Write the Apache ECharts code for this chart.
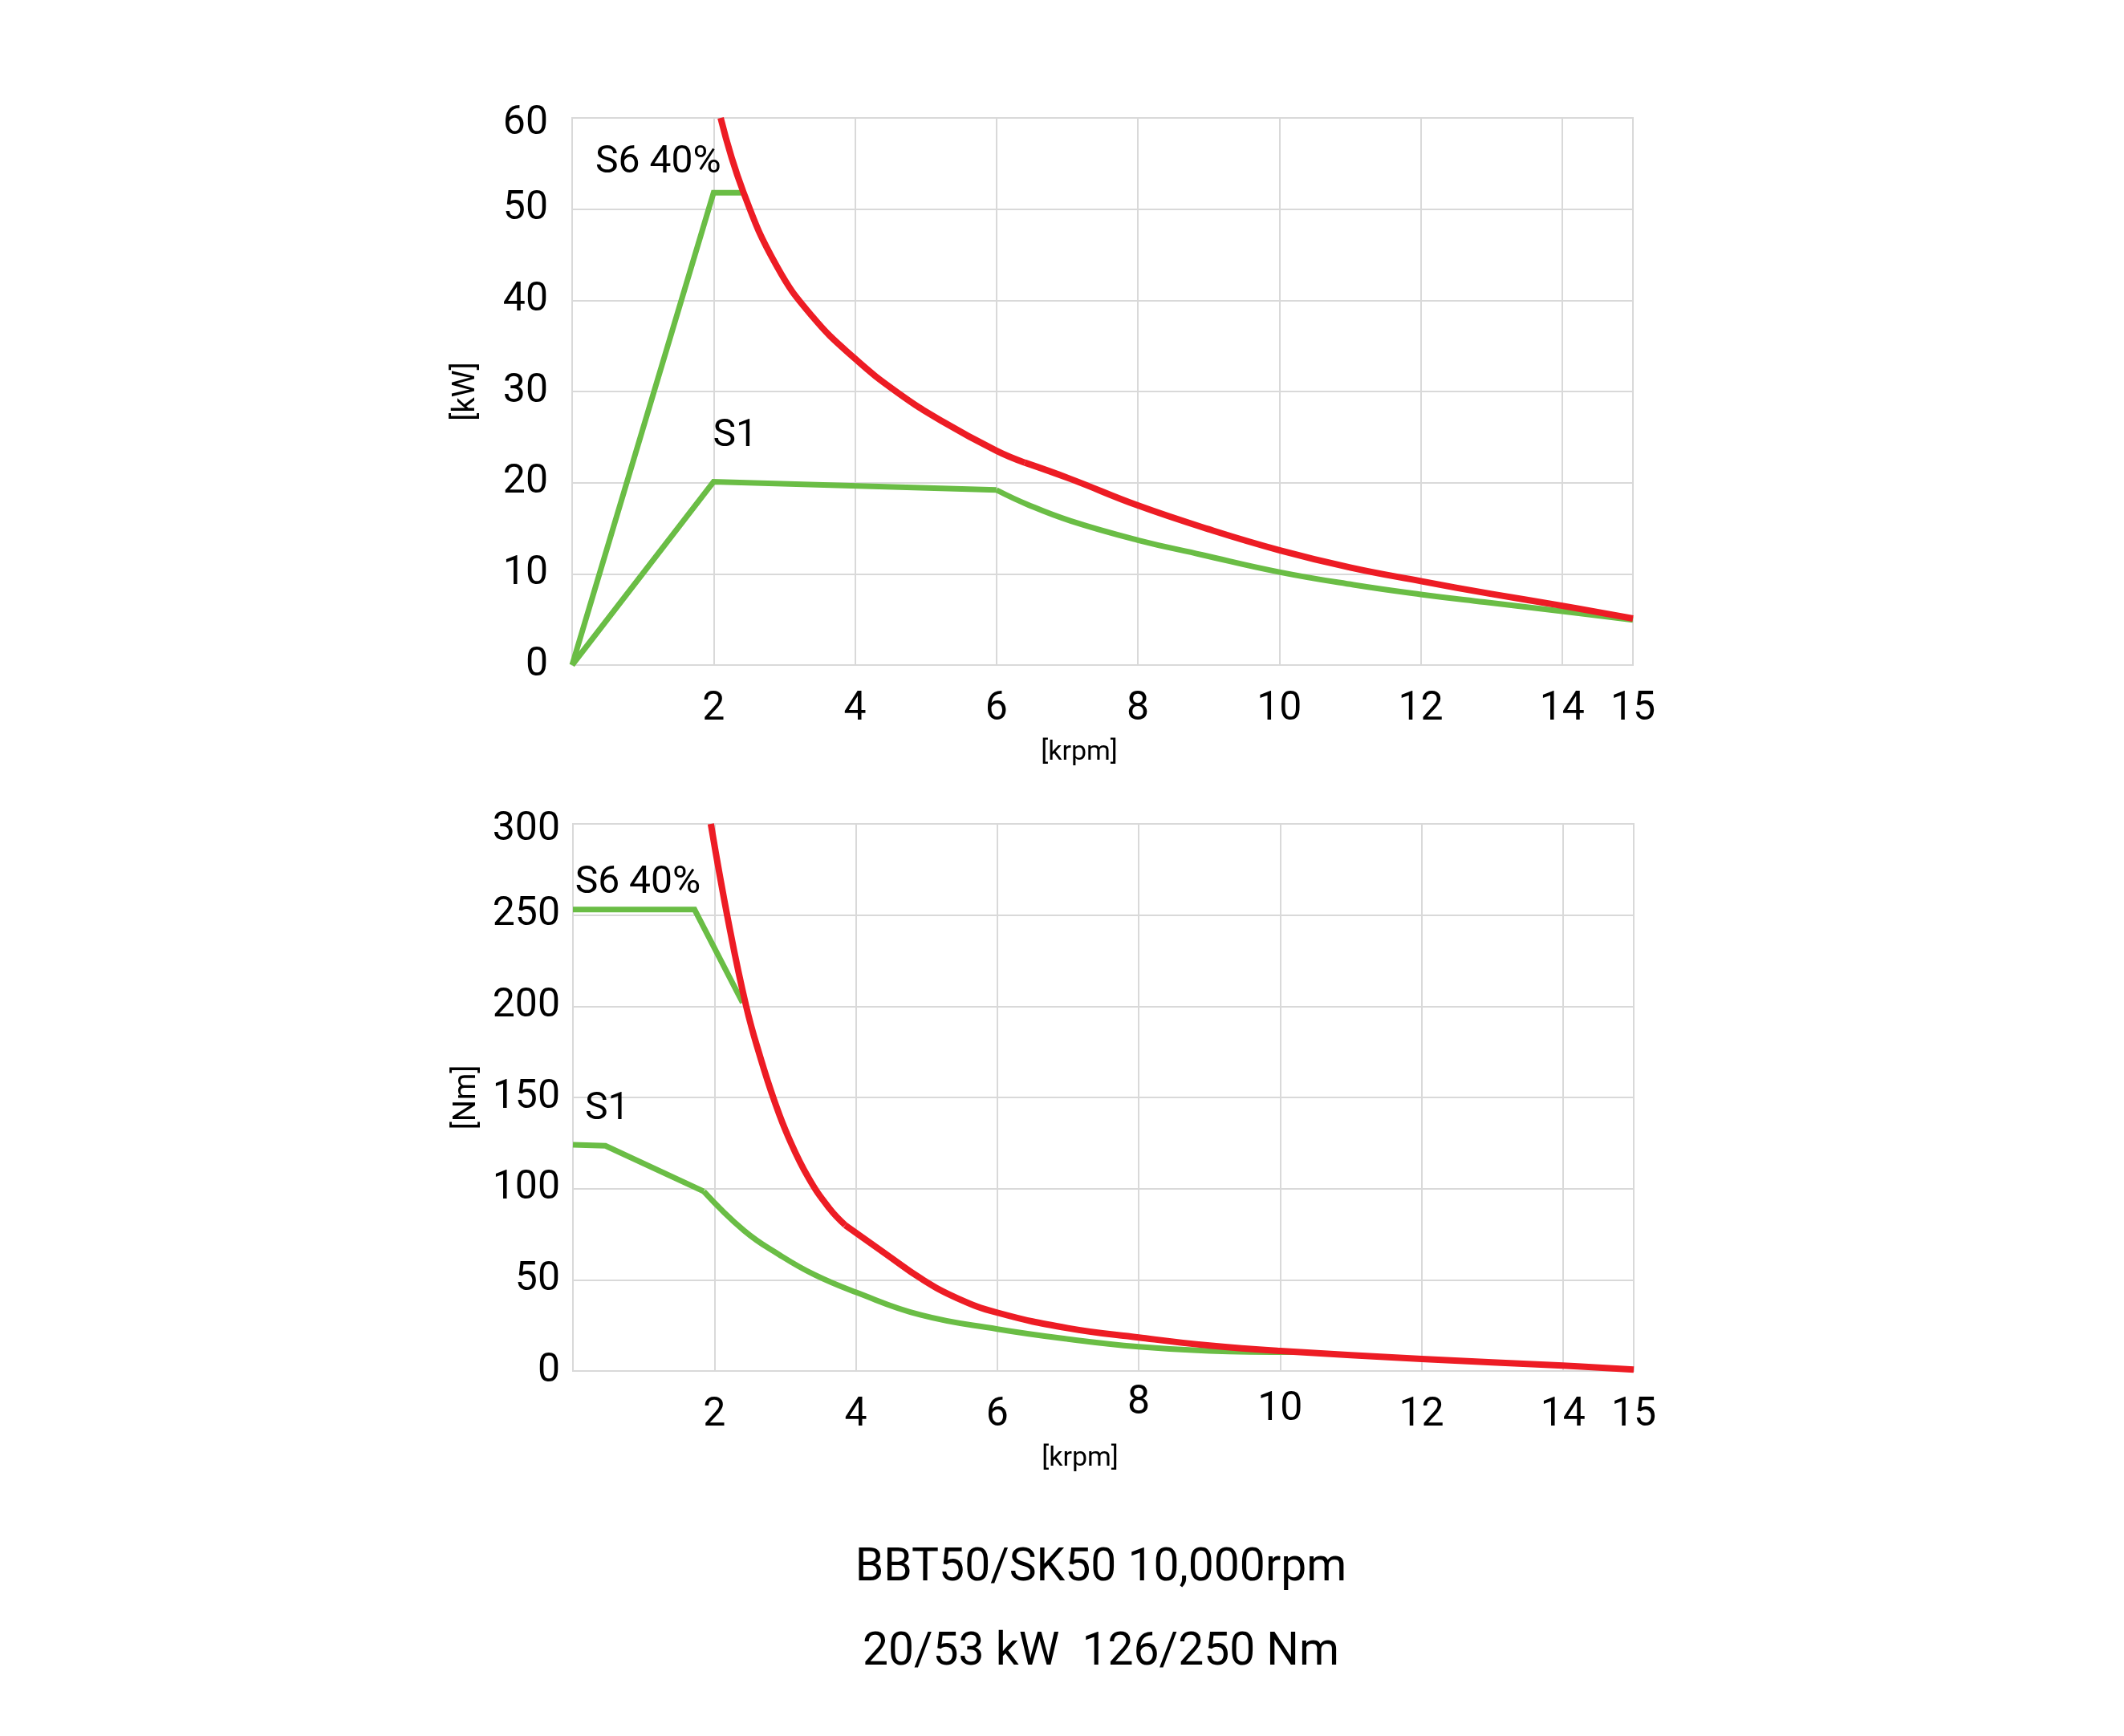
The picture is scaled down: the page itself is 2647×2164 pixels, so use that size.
<!DOCTYPE html>
<html><head><meta charset="utf-8">
<script src="https://cdn.jsdelivr.net/npm/echarts@6/dist/echarts.min.js"></script>
<style>html,body{margin:0;padding:0;background:#fff}#c{width:2647px;height:2164px}</style>
</head><body><div id="c"></div>
<script>
// ---------- Data: power chart [kW] vs [krpm] ----------
const kwS6Rpm = [0, 2, 2.41];
const kwS6Val = [0, 51.8, 51.8];
const kwS1RpmA = [0, 2, 6];
const kwS1ValA = [0, 20.1, 19.2];
const kwS1RpmB = [6, 6.44, 7.05, 8, 8.9, 10, 11.05, 12, 12.9, 14, 15];
const kwS1ValB = [19.2, 17.6, 15.8, 13.7, 12.1, 10.2, 8.8, 7.75, 6.9, 5.9, 4.95];
const kwMaxRpmA = [2.1, 2.42, 2.89, 3.4, 4.0, 4.6, 5.24, 6.0, 6.4];
const kwMaxValA = [60, 51.9, 43.8, 38.2, 33.6, 29.9, 26.7, 23.5, 22.2];
const kwMaxRpmB = [6.4, 7.05, 8.0, 9.0, 10, 11, 12, 13, 14, 15];
const kwMaxValB = [22.2, 20.4, 17.5, 14.9, 12.6, 10.7, 9.2, 7.8, 6.5, 5.1];

// ---------- Data: torque chart [Nm] vs [krpm] ----------
const nmS6Rpm = [0, 1.72, 2.4];
const nmS6Val = [253, 253, 202];
const nmS1RpmA = [0, 0.46, 1.85];
const nmS1ValA = [124, 123.5, 98.5];
const nmS1RpmB = [1.85, 2.42, 2.92, 3.42, 4.0, 4.92, 6.0, 7.0, 8.0, 9.0, 10.2];
const nmS1ValB = [98.5, 77, 63.7, 52.7, 43.2, 30.7, 23, 17.5, 13.3, 11.0, 10.3];
const nmMaxRpmA = [1.95, 2.2, 2.45, 2.65, 2.85, 3.05, 3.33, 3.63, 3.85];
const nmMaxValA = [300, 246, 200, 172, 148, 128, 106, 89, 80];
const nmMaxRpmB = [3.85, 4.43, 4.93, 5.43, 6.0, 7.0, 8.0, 9.0, 10, 12, 14, 15];
const nmMaxValB = [80, 64, 50.5, 40, 32, 23.5, 18.4, 14, 11, 6.6, 3.0, 0.8];

// ---------- Axis ticks ----------
const kwTicks = {min: 0, max: 60, step: 10};
const nmTicks = {min: 0, max: 300, step: 50};
const rpmTicks = {min: 0, max: 15, step: 2};

// ---------- Annotation texts (data coordinates) ----------
const kwNotes = [['S6 40%', 0.33, 55.1], ['S1', 1.99, 25.1]];
const nmNotes = [['S6 40%', 0.03, 267.4], ['S1', 0.17, 143.4]];

const titleLine1 = 'BBT50/SK50 10,000rpm';
const titleLine2 = '20/53 kW  126/250 Nm';

// ---------- Rendering ----------
const RED = '#ed1c24', GREEN = '#6abd45', GRID = '#d9d9d9', INK = '#000';
const FONT = 'Roboto, "Noto Sans", sans-serif';
const zip = (xs, ys) => xs.map((x, i) => [x, ys[i]]);

function line(idx, xs, ys, color, width, smooth) {
  return {
    type: 'line', xAxisIndex: idx, yAxisIndex: idx,
    data: zip(xs, ys), symbol: 'none', smooth: smooth ? 0.45 : false,
    lineStyle: {color: color, width: width, cap: 'butt', join: 'miter'},
    z: color === RED ? 3 : 2, silent: true
  };
}
function notes(idx, arr) {
  return {
    type: 'scatter', xAxisIndex: idx, yAxisIndex: idx, symbolSize: 0, silent: true,
    itemStyle: {opacity: 1},
    data: arr.map(n => ({value: [n[1], n[2]], name: n[0]})),
    label: {show: true, position: 'right', distance: 0, formatter: p => p.name,
      color: INK, opacity: 1, fontSize: 48, fontFamily: FONT, textBorderWidth: 0}
  };
}
function xAxis(idx, bottomChart) {
  return {
    type: 'value', gridIndex: idx, min: rpmTicks.min, max: rpmTicks.max, interval: rpmTicks.step,
    name: '[krpm]', nameLocation: 'middle', nameGap: 92,
    nameTextStyle: {fontSize: 34, color: INK, fontFamily: FONT, padding: [0, 58, 0, 0]},
    axisLine: {show: false}, axisTick: {show: false},
    splitLine: {show: true, lineStyle: {color: GRID, width: 2}},
    axisLabel: {
      margin: 20, color: INK, fontSize: 50, fontFamily: FONT,
      formatter: v => {
        if (v === 0) return '';
        if (bottomChart && v === 8) return '{a|8}';
        if (bottomChart && v === 10) return '{b|10}';
        return '{n|' + v + '}';
      },
      rich: {
        n: {lineHeight: 70, fontSize: 50, fontFamily: FONT, color: INK},
        a: {lineHeight: 40, fontSize: 50, fontFamily: FONT, color: INK},
        b: {lineHeight: 56, fontSize: 50, fontFamily: FONT, color: INK}
      }
    }
  };
}
function yAxis(idx, ticks, name, margin) {
  return {
    type: 'value', gridIndex: idx, min: ticks.min, max: ticks.max, interval: ticks.step,
    name: name, nameLocation: 'middle', nameGap: 113,
    nameTextStyle: {fontSize: 38, color: INK, fontFamily: FONT},
    axisLine: {show: false}, axisTick: {show: false},
    splitLine: {show: true, lineStyle: {color: GRID, width: 2}},
    axisLabel: {
      margin: margin, color: INK, fontSize: 50, fontFamily: FONT,
      formatter: v => (v === ticks.max ? '{t|' + v + '}' : '{n|' + v + '}'),
      rich: {
        n: {fontSize: 50, fontFamily: FONT, color: INK},
        t: {fontSize: 50, fontFamily: FONT, color: INK, padding: [14, 0, 0, 0]}
      }
    }
  };
}

const chart = echarts.init(document.getElementById('c'), null, {renderer: 'canvas'});
chart.setOption({
  backgroundColor: '#fff',
  animation: false,
  title: [
    {text: titleLine1, left: 1367, top: 1922, textAlign: 'center',
      textStyle: {fontSize: 57, fontWeight: 'normal', color: INK, fontFamily: FONT}},
    {text: titleLine2, left: 1367, top: 2027, textAlign: 'center',
      textStyle: {fontSize: 57, fontWeight: 'normal', color: INK, fontFamily: FONT}}
  ],
  grid: [
    {left: 713, top: 147, width: 1322, height: 682, show: true, borderColor: GRID, borderWidth: 2, backgroundColor: 'transparent'},
    {left: 714, top: 1027, width: 1322, height: 682, show: true, borderColor: GRID, borderWidth: 2, backgroundColor: 'transparent'}
  ],
  xAxis: [xAxis(0, false), xAxis(1, true)],
  yAxis: [yAxis(0, kwTicks, '[kW]', 30), yAxis(1, nmTicks, '[Nm]', 16)],
  series: [
    line(0, kwS6Rpm, kwS6Val, GREEN, 7, false),
    line(0, kwS1RpmA, kwS1ValA, GREEN, 7, false),
    line(0, kwS1RpmB, kwS1ValB, GREEN, 7, true),
    line(0, kwMaxRpmA, kwMaxValA, RED, 8, true),
    line(0, kwMaxRpmB, kwMaxValB, RED, 8, true),
    notes(0, kwNotes),
    line(1, nmS6Rpm, nmS6Val, GREEN, 7, false),
    line(1, nmS1RpmA, nmS1ValA, GREEN, 7, false),
    line(1, nmS1RpmB, nmS1ValB, GREEN, 7, true),
    line(1, nmMaxRpmA, nmMaxValA, RED, 8, true),
    line(1, nmMaxRpmB, nmMaxValB, RED, 8, true),
    notes(1, nmNotes)
  ]
});
</script></body></html>
